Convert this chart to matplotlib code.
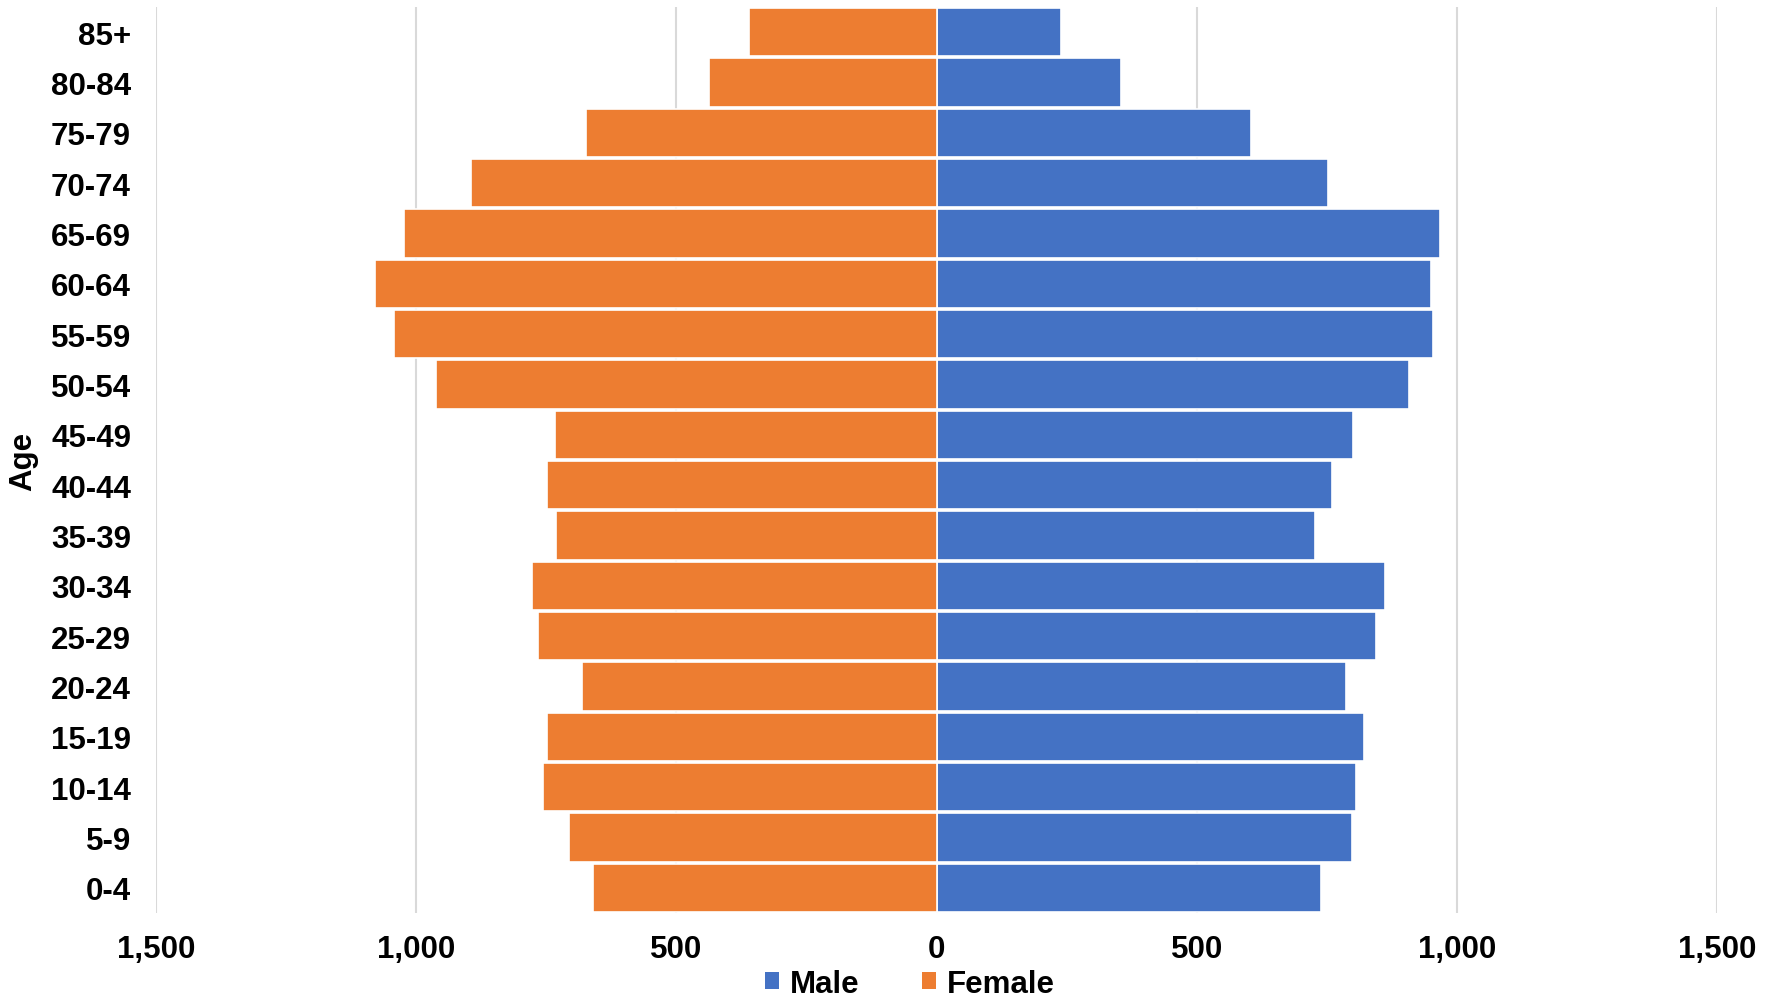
import matplotlib
matplotlib.use("Agg")
import matplotlib.pyplot as plt
from matplotlib.patches import Patch
from matplotlib.ticker import FuncFormatter, MultipleLocator

plt.rcParams['font.family'] = ['Liberation Sans', 'DejaVu Sans']

age_groups = ["0-4", "5-9", "10-14", "15-19", "20-24", "25-29", "30-34", "35-39",
              "40-44", "45-49", "50-54", "55-59", "60-64", "65-69", "70-74",
              "75-79", "80-84", "85+"]
male = [738, 799, 807, 821, 787, 845, 861, 728, 761, 801, 909, 954, 950, 968,
        752, 604, 354, 240]
female = [661, 707, 757, 749, 682, 765, 777, 732, 749, 733, 962, 1043, 1079,
          1023, 894, 673, 438, 361]

male_color = "#4472C4"
female_color = "#ED7D31"
FS = 22.5

fig = plt.figure(figsize=(17.77, 10.03), dpi=100)
ax = fig.add_axes([156 / 1777, 1 - 914 / 1003, (1717 - 156) / 1777, (914 - 8) / 1003])

y = list(range(len(age_groups)))
ax.barh(y, male, height=0.96, color=male_color, edgecolor="white", linewidth=1.2, zorder=2)
ax.barh(y, [-v for v in female], height=0.96, color=female_color, edgecolor="white",
        linewidth=1.2, zorder=2)

ax.set_xlim(-1500, 1500)
ax.set_ylim(-0.5, len(age_groups) - 0.5)
ax.xaxis.set_major_locator(MultipleLocator(500))
ax.xaxis.set_major_formatter(FuncFormatter(lambda v, p: f"{abs(int(round(v))):,}"))
ax.set_yticks(y)
ax.set_yticklabels(age_groups)

ax.grid(axis="x", color="#d9d9d9", linewidth=1.5, zorder=0)
ax.set_axisbelow(True)
for s in ax.spines.values():
    s.set_visible(False)
ax.tick_params(axis="both", length=0)
ax.tick_params(axis="y", pad=18, labelsize=FS)
ax.tick_params(axis="x", pad=15, labelsize=FS)
for lab in ax.get_xticklabels() + ax.get_yticklabels():
    lab.set_fontweight("bold")

ax.set_ylabel("Age", fontsize=FS, fontweight="bold")
ax.yaxis.set_label_coords(-(156 - 38) / (1717 - 156), 0.5)

handles = [Patch(facecolor=male_color, label="Male"),
           Patch(facecolor=female_color, label="Female")]
fig.legend(handles=handles, loc="center", bbox_to_anchor=(910 / 1777, 1 - 985 / 1003),
           ncol=2, frameon=False, handlelength=0.45, handleheight=0.45,
           handletextpad=0.35, columnspacing=2.0,
           prop={"size": FS, "weight": "bold"})

fig.savefig("out.png", dpi=100)
